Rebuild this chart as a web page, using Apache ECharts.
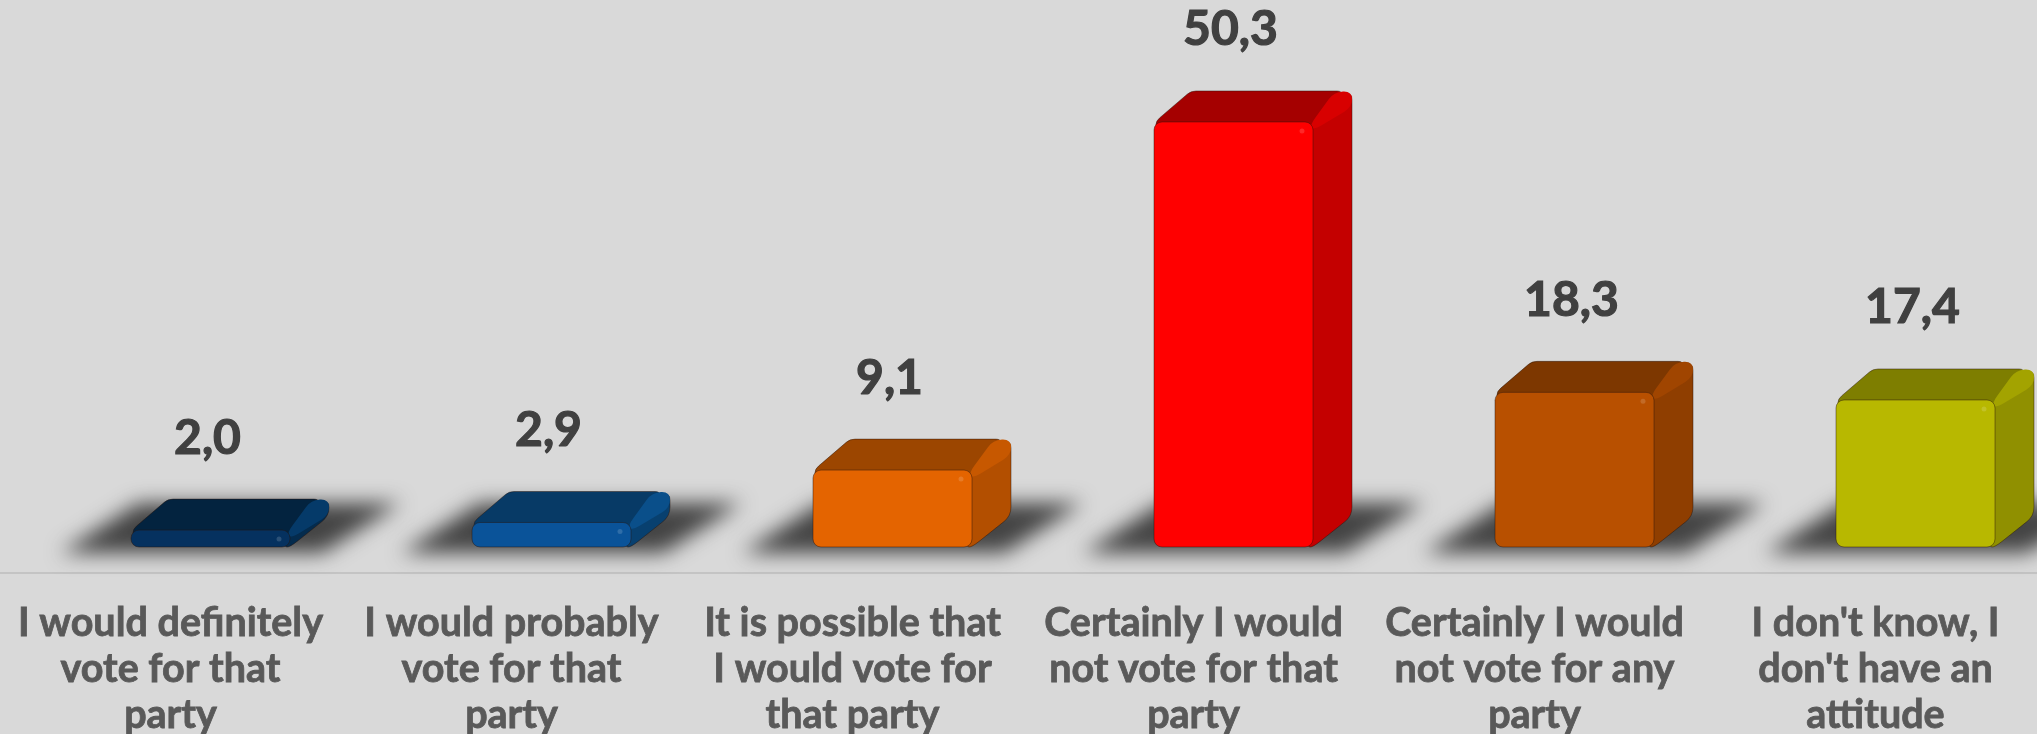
<!DOCTYPE html>
<html>
<head>
<meta charset="utf-8">
<style>html,body{margin:0;padding:0;background:#d9d9d9;overflow:hidden}#c{width:2037px;height:734px}</style>
<script src="https://cdn.jsdelivr.net/npm/echarts@6/dist/echarts.min.js"></script>
</head>
<body>
<div id="c"></div>
<script>
const categories = [
  "I would definitely\nvote for that\nparty",
  "I would probably\nvote for that\nparty",
  "It is possible that\nI would vote for\nthat party",
  "Certainly I would\nnot vote for that\nparty",
  "Certainly I would\nnot vote for any\nparty",
  "I don't know, I\ndon't have an\nattitude"
];
const values = [2.0, 2.9, 9.1, 50.3, 18.3, 17.4];
const frontColors = ['#05315f', '#0a5399', '#e46400', '#ff0000', '#b85000', '#b8b800'];
const topColors   = ['#03233f', '#073a66', '#9c4600', '#a50000', '#7d3700', '#7e7e00'];
const sideColors  = ['#042b4d', '#08406f', '#b34f00', '#c40000', '#8f3e00', '#909000'];
const ridgeColors = ['#053a69', '#0a4f8a', '#c75800', '#d80000', '#a04500', '#a3a300'];

const FONT = 'Lato, "Noto Sans", sans-serif';
const BAR_W = 159, DX = 39, DY = 31, SHIFT = 40, AWAY = 3000;

function roundedPoly(pts, r) {
  const n = pts.length; let d = '';
  for (let i = 0; i < n; i++) {
    const p = pts[i], a = pts[(i + n - 1) % n], b = pts[(i + 1) % n];
    const la = Math.hypot(a[0]-p[0], a[1]-p[1]), lb = Math.hypot(b[0]-p[0], b[1]-p[1]);
    const ra = Math.min(r, la / 2), rb = Math.min(r, lb / 2);
    const s = [p[0] + (a[0]-p[0]) * ra / la, p[1] + (a[1]-p[1]) * ra / la];
    const e = [p[0] + (b[0]-p[0]) * rb / lb, p[1] + (b[1]-p[1]) * rb / lb];
    d += (i ? 'L' : 'M') + s[0].toFixed(2) + ' ' + s[1].toFixed(2) +
         'Q' + p[0].toFixed(2) + ' ' + p[1].toFixed(2) + ' ' + e[0].toFixed(2) + ' ' + e[1].toFixed(2);
  }
  return d + 'Z';
}

function renderBar(params, api) {
  const i = api.value(0), v = api.value(1);
  const top = api.coord([i, v]), base = api.coord([i, 0]);
  const cx = top[0] + SHIFT, x0 = cx - BAR_W / 2, x1 = cx + BAR_W / 2;
  const yt = top[1], yb = base[1];
  const edge = 'rgba(40,20,10,0.45)';
  const children = [
    { type: 'polygon', z2: 1,
      shape: { points: [[cx-150-AWAY, yb+6], [cx+112-AWAY, yb+6], [cx+190-AWAY, yb-44], [cx-72-AWAY, yb-44]] },
      style: { fill: '#444444', shadowBlur: 20, shadowColor: '#444444', shadowOffsetX: AWAY } },
    { type: 'path', z2: 2,
      shape: { pathData: roundedPoly([[x1-6, yt], [x1+DX, yt-DY], [x1+DX, yb-DY], [x1, yb], [x1-6, yb]], 9) },
      style: { fill: sideColors[i], stroke: edge, lineWidth: 1 } },
    { type: 'path', z2: 3,
      shape: { pathData: roundedPoly([[x0+2, yt+6], [x0+2, yt-1], [x0+DX-2, yt-DY], [x1+DX-10, yt-DY], [x1+DX-10, yt-DY+8], [x1, yt+6]], 5) },
      style: { fill: topColors[i], stroke: edge, lineWidth: 1 } },
    { type: 'path', z2: 4,
      shape: { pathData: roundedPoly([[x1-3, yt+3], [x1+DX-18, yt-DY+1], [x1+DX, yt-DY], [x1+DX, yt-DY+16], [x1+1, yt+8]], 9) },
      style: { fill: ridgeColors[i] } },
    { type: 'rect', z2: 5,
      shape: { x: x0, y: yt, width: BAR_W, height: yb - yt, r: 8 },
      style: { fill: frontColors[i], stroke: edge, lineWidth: 1 } },
    { type: 'circle', z2: 6,
      shape: { cx: x1 - 11, cy: yt + 9, r: 2.5 },
      style: { fill: 'rgba(255,255,255,0.14)', shadowBlur: 3, shadowColor: 'rgba(255,255,255,0.2)' } },
    { type: 'text', z2: 7,
      style: { text: v.toFixed(1).replace('.', ','), x: cx - 3, y: yt - DY - 61,
               fill: '#404040', stroke: '#404040', lineWidth: 1.2,
               font: '700 48px ' + FONT, align: 'center', verticalAlign: 'middle' } }
  ];
  return { type: 'group', children };
}

const chart = echarts.init(document.getElementById('c'), null, { renderer: 'canvas' });
chart.setOption({
  animation: false,
  backgroundColor: '#d9d9d9',
  grid: { left: 0, top: 40, width: 2046, height: 507, outerBoundsMode: 'none' },
  xAxis: {
    type: 'category', data: categories, offset: 26,
    axisTick: { show: false },
    axisLine: { show: true, onZero: false, lineStyle: { color: '#bdbdbd', width: 1.5 } },
    axisLabel: { interval: 0, margin: 27, color: '#595959', fontFamily: FONT, fontWeight: 700,
                 fontSize: 39.5, lineHeight: 46, verticalAlign: 'top',
                 textBorderColor: '#595959', textBorderWidth: 0.8 }
  },
  yAxis: { type: 'value', min: 0, max: 60, show: false },
  series: [{
    type: 'custom', clip: false, renderItem: renderBar,
    encode: { x: 0, y: 1 },
    data: values.map((v, i) => [i, v])
  }]
});
</script>
</body>
</html>
